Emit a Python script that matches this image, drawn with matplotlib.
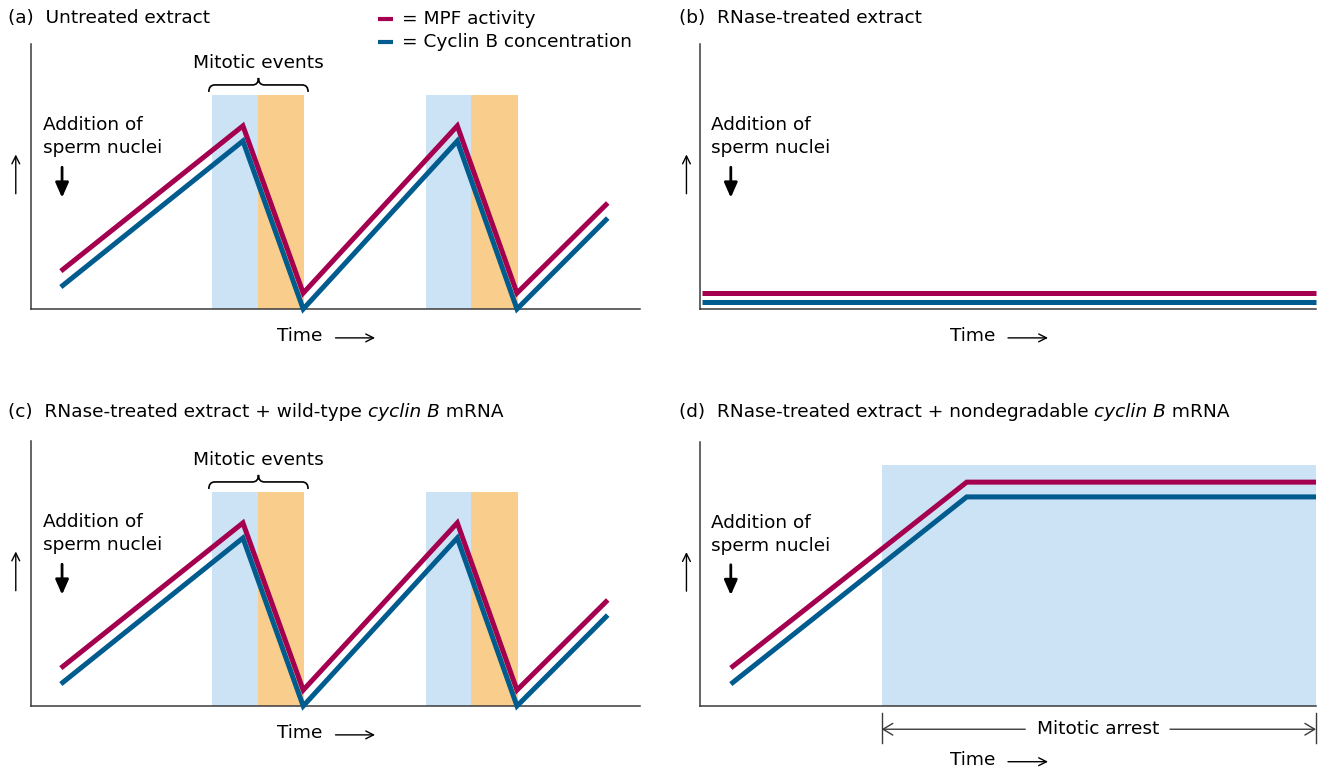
import matplotlib
matplotlib.use('Agg')
import matplotlib.pyplot as plt
from matplotlib.lines import Line2D
from matplotlib.path import Path
from matplotlib.patches import PathPatch

plt.rcParams['font.family'] = ['DejaVu Sans']

# ---- data (time and level in arbitrary units, 0..100 on each panel) ----
cycle_t = [4.9, 34.8, 44.7, 70.0, 79.8, 94.7]
cycle_mpf = [14.3, 69.1, 6.0, 69.1, 6.0, 40.0]
cycle_cyclin = [8.3, 63.4, 0.0, 63.4, 0.0, 34.3]
blue_bands = [(29.7, 37.3), (64.9, 72.2)]
orange_bands = [(37.3, 44.8), (72.2, 80.0)]
band_top = 80.8

flat_t = [0.3, 100]
flat_mpf = [6.2, 6.2]
flat_cyclin = [2.8, 2.8]

arrest_t = [5.0, 43.3, 100]
arrest_mpf = [14.4, 84.8, 84.8]
arrest_cyclin = [8.3, 79.2, 79.2]
arrest_band = (29.5, 100)
arrest_band_top = 91.3

legend_labels = ['= MPF activity', '= Cyclin B concentration']

MPF = '#a4004f'
CYC = '#005b8f'
LBLUE = '#cce3f5'
ORANGE = '#f9cd8b'
AXC = '#3a3a3a'
FS = 13.3

W, H = 1323, 772
fig = plt.figure(figsize=(W / 100, H / 100), dpi=100)


def box(l, t, r, b):
    return [l / W, 1 - b / H, (r - l) / W, (b - t) / H]


def fx(x):
    return x / W


def fy(y):
    return 1 - y / H


def setup(ax):
    ax.set_xlim(0, 100)
    ax.set_ylim(0, 100)
    ax.set_xticks([])
    ax.set_yticks([])
    ax.patch.set_visible(False)
    for s in ['top', 'right']:
        ax.spines[s].set_visible(False)
    for s in ['left', 'bottom']:
        ax.spines[s].set_color(AXC)
        ax.spines[s].set_linewidth(1.1)


def curves(ax, t, mpf, cyc):
    ax.plot(t, mpf, color=MPF, lw=3.6, solid_capstyle='butt',
            solid_joinstyle='miter', clip_on=False, zorder=3)
    ax.plot(t, cyc, color=CYC, lw=3.6, solid_capstyle='butt',
            solid_joinstyle='miter', clip_on=False, zorder=3)


def time_label(ax, y):
    ax.text(44.2, y, 'Time', fontsize=FS, ha='center', va='center')
    ax.annotate('', xy=(56.5, y - 0.6), xytext=(50, y - 0.6),
                arrowprops=dict(arrowstyle='->,head_length=0.4,head_width=0.2',
                                lw=1, color='black', shrinkA=0, shrinkB=0,
                                mutation_scale=14),
                annotation_clip=False)


def sperm_label(ax, x_text, x_arrow, x_up):
    ax.text(x_text, 69.3, 'Addition of', fontsize=FS, ha='left', va='center')
    ax.text(x_text, 60.6, 'sperm nuclei', fontsize=FS, ha='left', va='center')
    ax.annotate('', xy=(x_arrow, 42.0), xytext=(x_arrow, 53.5),
                arrowprops=dict(arrowstyle='-|>,head_length=0.5,head_width=0.22',
                                lw=2, color='black', shrinkA=0, shrinkB=0,
                                mutation_scale=18),
                annotation_clip=False)
    ax.annotate('', xy=(x_up, 58.3), xytext=(x_up, 43.5),
                arrowprops=dict(arrowstyle='->,head_length=0.4,head_width=0.2',
                                lw=1, color='black', shrinkA=0, shrinkB=0,
                                mutation_scale=14),
                annotation_clip=False)


def brace(ax, x0, x1, y, h):
    xm = (x0 + x1) / 2
    q = (x1 - x0) * 0.06
    ym = y + h / 2
    verts = [(x0, y), (x0, ym), (x0 + q, ym), (xm - q, ym), (xm, ym), (xm, y + h),
             (xm, ym), (xm + q, ym), (x1 - q, ym), (x1, ym), (x1, y)]
    codes = [Path.MOVETO, Path.CURVE3, Path.CURVE3, Path.LINETO, Path.CURVE3, Path.CURVE3,
             Path.CURVE3, Path.CURVE3, Path.LINETO, Path.CURVE3, Path.CURVE3]
    ax.add_patch(PathPatch(Path(verts, codes), fill=False, lw=1.2, color='black',
                           clip_on=False))


def cycle_panel(ax):
    setup(ax)
    for x0, x1 in blue_bands:
        ax.axvspan(x0, x1, ymax=band_top / 100, color=LBLUE, lw=0, zorder=1)
    for x0, x1 in orange_bands:
        ax.axvspan(x0, x1, ymax=band_top / 100, color=ORANGE, lw=0, zorder=1)
    curves(ax, cycle_t, cycle_mpf, cycle_cyclin)
    brace(ax, 29.2, 45.5, 81.9, 5.3)
    ax.text(37.3, 93.0, 'Mitotic events', fontsize=FS, ha='center', va='center')
    sperm_label(ax, 2.0, 5.1, -2.5)
    time_label(ax, -10.3)


def chain_title(x, y, parts):
    # pieces placed one after another so the italic part sits inline
    first = fig.text(fx(x), fy(y), parts[0][0], fontsize=FS, style=parts[0][1],
                     ha='left', va='center')
    prev = first
    for txt, style in parts[1:]:
        prev = fig.axes[0].annotate(txt, xy=(1, 0), xycoords=prev, fontsize=FS,
                                    style=style, ha='left', va='bottom',
                                    annotation_clip=False)
    return first


ax_a = fig.add_axes(box(31, 44, 640, 309))
ax_b = fig.add_axes(box(700, 44, 1316, 309))
ax_c = fig.add_axes(box(31, 441, 640, 706))
ax_d = fig.add_axes(box(700, 442, 1316, 706))

# (a) and (c)
cycle_panel(ax_a)
cycle_panel(ax_c)

# (b)
setup(ax_b)
curves(ax_b, flat_t, flat_mpf, flat_cyclin)
sperm_label(ax_b, 1.8, 5.0, -2.2)
time_label(ax_b, -10.3)

# (d)
setup(ax_d)
ax_d.axvspan(arrest_band[0], arrest_band[1], ymax=arrest_band_top / 100,
             color=LBLUE, lw=0, zorder=1)
curves(ax_d, arrest_t, arrest_mpf, arrest_cyclin)
sperm_label(ax_d, 1.8, 5.0, -2.2)
time_label(ax_d, -20.5)
for xv in arrest_band:
    ax_d.plot([xv, xv], [-2.7, -14.2], color=AXC, lw=1, clip_on=False)
ax_d.text(64.6, -8.8, 'Mitotic arrest', fontsize=FS, ha='center', va='center')
for x_from, x_to in [(52.8, arrest_band[0]), (76.3, arrest_band[1])]:
    ax_d.annotate('', xy=(x_to, -8.8), xytext=(x_from, -8.8),
                  arrowprops=dict(arrowstyle='->,head_length=0.5,head_width=0.3',
                                  lw=1, color=AXC, shrinkA=0, shrinkB=0,
                                  mutation_scale=14),
                  annotation_clip=False)

# titles
chain_title(8, 18, [('(a)  Untreated extract', 'normal')])
chain_title(679, 18, [('(b)  RNase-treated extract', 'normal')])
chain_title(8, 412, [('(c)  RNase-treated extract + wild-type ', 'normal'),
                     ('cyclin B', 'italic'), (' mRNA', 'normal')])
chain_title(679, 412, [('(d)  RNase-treated extract + nondegradable ', 'normal'),
                       ('cyclin B', 'italic'), (' mRNA', 'normal')])

# legend
for i, (lab, col) in enumerate(zip(legend_labels, [MPF, CYC])):
    y = 19 + 23 * i
    fig.add_artist(Line2D([fx(378), fx(393)], [fy(y), fy(y)], color=col, lw=3,
                          solid_capstyle='butt', transform=fig.transFigure))
    fig.text(fx(402), fy(y), lab, fontsize=FS, ha='left', va='center')

fig.savefig('out.png', dpi=100)
